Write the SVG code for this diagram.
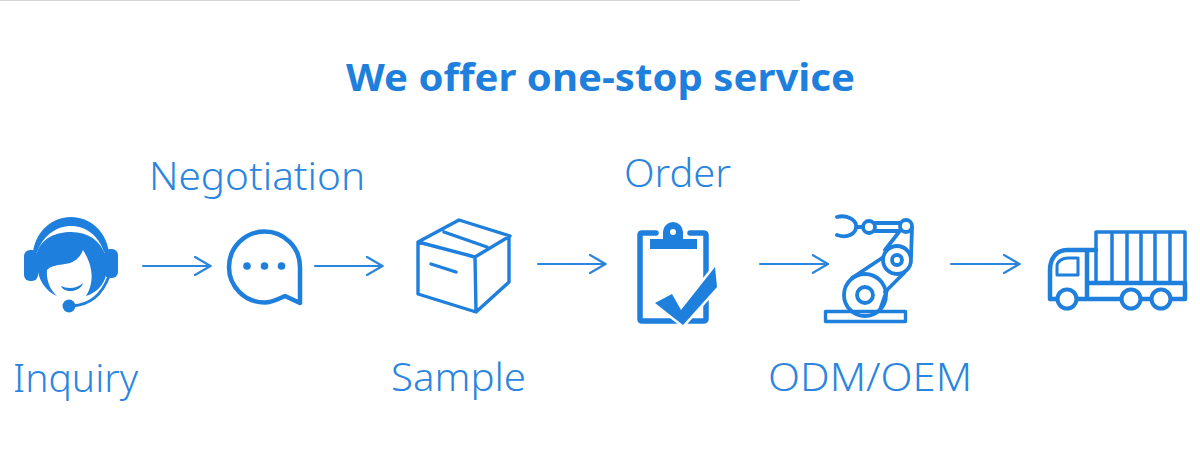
<svg xmlns="http://www.w3.org/2000/svg" width="1200" height="470" viewBox="0 0 1200 470">
<defs>
<style>
text{font-family:"Noto Sans","Open Sans","Liberation Sans",sans-serif;fill:#2b85de}
.t{font-weight:700;font-size:38px;fill:#1f7fdc}
.l{font-size:39px;font-weight:300}
.s{fill:none;stroke:#1f7fdc;stroke-linejoin:round;stroke-linecap:round}
.f{fill:#1f7fdc}
.a{fill:none;stroke:#2b85de;stroke-width:2.2;stroke-linecap:round;stroke-linejoin:round}
</style>
<marker id="h" viewBox="0 0 18 20" refX="16.5" refY="10" markerWidth="18" markerHeight="20" markerUnits="userSpaceOnUse" orient="auto"><path d="M1 1L16.5 10L1 19" fill="none" stroke="#2b85de" stroke-width="2.2" stroke-linecap="round" stroke-linejoin="round"/></marker>
</defs>
<rect width="1200" height="470" fill="#fff"/>
<rect width="800" height="1" fill="#d4d4d4"/>
<text class="t" x="346" y="91" id="title" textLength="509" lengthAdjust="spacingAndGlyphs">We offer one-stop service</text>
<g id="connectors">
<path class="a" marker-end="url(#h)" d="M143 266H210.500"/>
<path class="a" marker-end="url(#h)" d="M315 266H382.500"/>
<path class="a" marker-end="url(#h)" d="M538 264H605.500"/>
<path class="a" marker-end="url(#h)" d="M760 264H828"/>
<path class="a" marker-end="url(#h)" d="M951 264H1019.500"/>
</g>
<g id="inquiry">
<path class="f" d="M33 252C36 231 52 217 71 217C90 217 106 231 109 252L104 252C99 236 86 226 71 226C56 226 43 236 37 252Z"/>
<path class="f" d="M37 252C42 238 56 232 71 232C88 232 100 240 106 256L106 275C104 285 96 293 86 296C90 290 93 280 91 270C90 262 86 255 83 250C80 258 74 263 65 264C58 265 50 266 47 270C46 280 50 290 57 296C47 292 40 282 38 272Z"/>
<rect class="f" x="24" y="250" width="14" height="31" rx="6"/>
<rect class="f" x="104" y="249" width="14" height="29" rx="6"/>
<path class="f" d="M61 286C67 289 77 289 83 283C81 292 64 294 61 286Z"/>
<path class="s" stroke-width="2.800" d="M109 276C102 295 90 305 72 306"/>
<circle class="f" cx="69" cy="306" r="6.500"/>
<text class="l" x="13" y="392" textLength="125" lengthAdjust="spacingAndGlyphs">Inquiry</text>
</g>
<g id="negotiation">
<path class="s" stroke-width="4.500" d="M300 267A35.500 35.500 0 1 0 264.500 302.500C272 302.500 278 299 285 296L300 303Z"/>
<circle class="f" cx="247" cy="266" r="3.800"/>
<circle class="f" cx="264.500" cy="266" r="3.800"/>
<circle class="f" cx="281.500" cy="266" r="3.800"/>
<text class="l" x="149" y="190" textLength="216" lengthAdjust="spacingAndGlyphs">Negotiation</text>
</g>
<g id="sample">
<path class="s" stroke-width="3.400" d="M418 242L459 220L510 236L475 257ZM418 242V294L476 312L509 282V236M475 257L476 312M444 232L487 247M431 264L456 272"/>
<text class="l" x="391" y="391" textLength="135" lengthAdjust="spacingAndGlyphs">Sample</text>
</g>
<g id="order">
<path class="s" stroke-width="5.500" d="M656 233H642Q640 233 640 235V319Q640 321 642 321H703Q706 321 706 319V235Q706 233 703 233H690"/>
<path class="f" d="M650 239H697V249H650ZM663 239V232A10 10 0 0 1 683 232V239Z"/>
<circle cx="673" cy="232" r="3" fill="#fff"/>
<path d="M655 303L672 294L681 310L715 267L717 287L683 325Z" fill="#1f7fdc" stroke="#fff" stroke-width="5" paint-order="stroke"/>
<text class="l" x="624" y="187" textLength="107" lengthAdjust="spacingAndGlyphs">Order</text>
</g>
<g id="odm">
<rect class="s" x="825.500" y="311.500" width="80" height="10" stroke-width="3.400"/>
<circle class="s" cx="865" cy="295" r="21" stroke-width="3.800"/>
<circle class="s" cx="865" cy="295" r="8" stroke-width="3.800"/>
<circle class="s" cx="897" cy="260" r="14" stroke-width="3.800"/>
<circle class="s" cx="897" cy="260" r="5" stroke-width="3.800"/>
<circle class="s" cx="906" cy="226" r="6" stroke-width="3.800"/>
<circle class="s" cx="869" cy="227" r="6" stroke-width="3.800"/>
<path class="s" stroke-width="3.800" d="M875 223H900M875 231H900M863 227H857M837 217C848 214 857 221 856 227C856 233 848 239 837 235M882 258L852 278M899 232L885 250M912 228L911 257M904 273L885 292M887 290L880 310"/>
<text class="l" x="768" y="391" textLength="204" lengthAdjust="spacingAndGlyphs">ODM/OEM</text>
</g>
<g id="truck">
<path class="s" stroke-width="3.500" d="M1096 283V232H1185V283M1112 232V283M1127 232V283M1141 232V283M1155 232V283M1170 232V283"/>
<path class="s" stroke-width="4.500" d="M1096 250H1067C1056 250 1050 259 1050 270V299H1057M1077 299H1121M1141 299H1151M1171 299H1185V283H1087M1087 250V299"/>
<path class="s" stroke-width="3" d="M1057 275V266C1057 261 1063 258 1068 258H1078V275Z"/>
<circle class="s" cx="1067" cy="299" r="9.500" stroke-width="4"/>
<circle class="s" cx="1131" cy="299" r="9.500" stroke-width="4"/>
<circle class="s" cx="1161" cy="299" r="9.500" stroke-width="4"/>
</g>
</svg>
